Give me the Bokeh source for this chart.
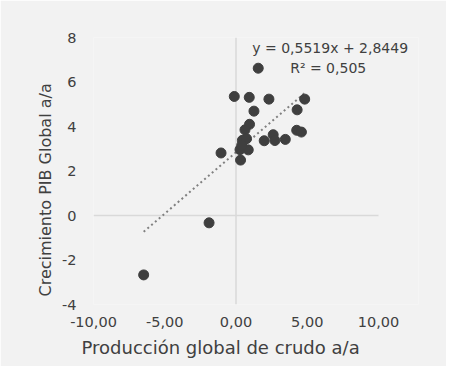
from bokeh.plotting import figure
from bokeh.models import Range1d, Label, FixedTicker, ColumnDataSource, Title
from bokeh.embed import file_html
from bokeh.resources import INLINE

# Data (producción global de crudo a/a vs crecimiento PIB global a/a)
prod_crudo = [-0.12, 0.93, 2.31, 4.82, 1.56, 1.26, 4.29, 0.95, 0.63, 4.26, 4.59, 2.61,
              2.73, 1.98, 3.46, 0.45, 0.74, 0.28, 0.86, 0.32, -1.05, -1.89, -6.48, 0.40]
pib_global = [5.35, 5.31, 5.23, 5.23, 6.62, 4.69, 4.75, 4.10, 3.85, 3.83, 3.75, 3.63,
              3.37, 3.36, 3.42, 3.38, 3.45, 2.96, 2.95, 2.49, 2.81, -0.33, -2.67, 3.15]
slope = 0.5519
intercept = 2.8449
r2 = 0.505
x_ticks = [-10, -5, 0, 5, 10]
x_tick_labels = ["-10,00", "-5,00", "0,00", "5,00", "10,00"]
y_ticks = [-4, -2, 0, 2, 4, 6, 8]
y_tick_labels = ["-4", "-2", "0", "2", "4", "6", "8"]
x_title = "Producción global de crudo a/a"
y_title = "Crecimiento PIB Global a/a"
eq_text = "y = 0,5519x + 2,8449"
r2_text = "R² = 0,505"

BG = "#f2f2f2"
TXT = "#404040"
FONT = "DejaVu Sans"

p = figure(width=446, height=366, output_backend="svg", toolbar_location=None,
           x_range=Range1d(-10, 12.807), y_range=Range1d(-4, 8),
           min_border_left=93, min_border_right=28, min_border_top=37, min_border_bottom=62)
p.background_fill_color = BG
p.border_fill_color = BG
p.outline_line_color = None
p.grid.visible = False

for ax in (p.xaxis[0], p.yaxis[0]):
    ax.axis_line_color = None
    ax.major_tick_line_color = None
    ax.minor_tick_line_color = None
    ax.major_tick_in = 0
    ax.major_tick_out = 0
    ax.minor_tick_in = 0
    ax.minor_tick_out = 0
    ax.major_label_text_color = TXT
    ax.major_label_text_font = FONT
    ax.major_label_text_font_size = "14.5px"

p.xaxis[0].ticker = FixedTicker(ticks=x_ticks)
p.xaxis[0].major_label_overrides = {t: l for t, l in zip(x_ticks, x_tick_labels)}
p.xaxis[0].major_label_standoff = 12
p.yaxis[0].ticker = FixedTicker(ticks=y_ticks)
p.yaxis[0].major_label_overrides = {t: l for t, l in zip(y_ticks, y_tick_labels)}
p.yaxis[0].major_label_standoff = 17

# zero axes lines
p.segment(x0=[x_ticks[0]], y0=[0], x1=[x_ticks[-1]], y1=[0], line_color="#d9d9d9", line_width=1.5)
p.segment(x0=[0], y0=[y_ticks[0]], x1=[0], y1=[y_ticks[-1]], line_color="#d9d9d9", line_width=1.5)

# trend line
x0, x1 = min(prod_crudo), max(prod_crudo)
p.line([x0, x1], [slope * x0 + intercept, slope * x1 + intercept],
       line_color="#808080", line_width=2, line_dash="2 3")

src = ColumnDataSource(dict(x=prod_crudo, y=pib_global))
p.scatter("x", "y", source=src, size=10, fill_color="#3f3f3f", line_color="#3f3f3f")

# equation labels
p.add_layout(Label(x=1.14, y=7.52, text=eq_text, text_font=FONT, text_font_size="14px",
                   text_color=TXT, text_align="left", text_baseline="middle"))
p.add_layout(Label(x=3.80, y=6.62, text=r2_text, text_font=FONT, text_font_size="14px",
                   text_color=TXT, text_align="left", text_baseline="middle"))

# axis titles
p.add_layout(Title(text=x_title, align="left", offset=-12, text_font=FONT,
                   text_font_size="18px", text_font_style="normal", text_color=TXT,
                   standoff=10), "below")
p.add_layout(Title(text=y_title, align="left", offset=8, text_font=FONT,
                   text_font_size="16px", text_font_style="normal", text_color=TXT,
                   standoff=10), "left")

open("out.html", "w").write(file_html(p, INLINE))
